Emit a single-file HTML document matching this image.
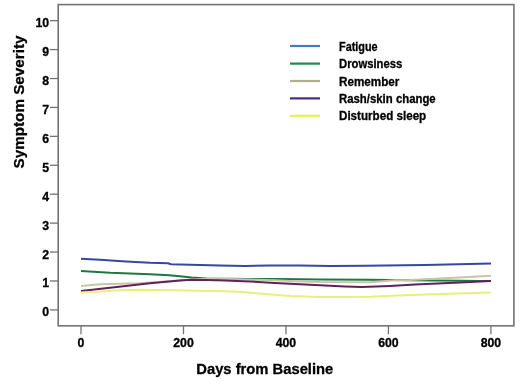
<!DOCTYPE html>
<html><head><meta charset="utf-8"><title>Symptom Severity</title>
<style>html,body{margin:0;padding:0;background:#fff;width:520px;height:390px;overflow:hidden}svg{display:block}</style>
</head><body>
<svg width="520" height="390" viewBox="0 0 520 390">
<rect x="0" y="0" width="520" height="390" fill="#fff"/>
<rect x="58.2" y="4.6" width="455.7" height="321.2" fill="none" stroke="#737373" stroke-width="1.6"/>
<line x1="50" y1="309.90" x2="58.2" y2="309.90" stroke="#737373" stroke-width="1.3"/>
<text x="49.2" y="316.40" text-anchor="end" font-family='"Liberation Sans", Arial, sans-serif' font-weight="bold" font-size="12.3" fill="#000" stroke="#000" stroke-width="0.3">0</text>
<line x1="50" y1="280.98" x2="58.2" y2="280.98" stroke="#737373" stroke-width="1.3"/>
<text x="49.2" y="287.48" text-anchor="end" font-family='"Liberation Sans", Arial, sans-serif' font-weight="bold" font-size="12.3" fill="#000" stroke="#000" stroke-width="0.3">1</text>
<line x1="50" y1="252.05" x2="58.2" y2="252.05" stroke="#737373" stroke-width="1.3"/>
<text x="49.2" y="258.55" text-anchor="end" font-family='"Liberation Sans", Arial, sans-serif' font-weight="bold" font-size="12.3" fill="#000" stroke="#000" stroke-width="0.3">2</text>
<line x1="50" y1="223.13" x2="58.2" y2="223.13" stroke="#737373" stroke-width="1.3"/>
<text x="49.2" y="229.63" text-anchor="end" font-family='"Liberation Sans", Arial, sans-serif' font-weight="bold" font-size="12.3" fill="#000" stroke="#000" stroke-width="0.3">3</text>
<line x1="50" y1="194.20" x2="58.2" y2="194.20" stroke="#737373" stroke-width="1.3"/>
<text x="49.2" y="200.70" text-anchor="end" font-family='"Liberation Sans", Arial, sans-serif' font-weight="bold" font-size="12.3" fill="#000" stroke="#000" stroke-width="0.3">4</text>
<line x1="50" y1="165.28" x2="58.2" y2="165.28" stroke="#737373" stroke-width="1.3"/>
<text x="49.2" y="171.78" text-anchor="end" font-family='"Liberation Sans", Arial, sans-serif' font-weight="bold" font-size="12.3" fill="#000" stroke="#000" stroke-width="0.3">5</text>
<line x1="50" y1="136.36" x2="58.2" y2="136.36" stroke="#737373" stroke-width="1.3"/>
<text x="49.2" y="142.86" text-anchor="end" font-family='"Liberation Sans", Arial, sans-serif' font-weight="bold" font-size="12.3" fill="#000" stroke="#000" stroke-width="0.3">6</text>
<line x1="50" y1="107.43" x2="58.2" y2="107.43" stroke="#737373" stroke-width="1.3"/>
<text x="49.2" y="113.93" text-anchor="end" font-family='"Liberation Sans", Arial, sans-serif' font-weight="bold" font-size="12.3" fill="#000" stroke="#000" stroke-width="0.3">7</text>
<line x1="50" y1="78.51" x2="58.2" y2="78.51" stroke="#737373" stroke-width="1.3"/>
<text x="49.2" y="85.01" text-anchor="end" font-family='"Liberation Sans", Arial, sans-serif' font-weight="bold" font-size="12.3" fill="#000" stroke="#000" stroke-width="0.3">8</text>
<line x1="50" y1="49.58" x2="58.2" y2="49.58" stroke="#737373" stroke-width="1.3"/>
<text x="49.2" y="56.08" text-anchor="end" font-family='"Liberation Sans", Arial, sans-serif' font-weight="bold" font-size="12.3" fill="#000" stroke="#000" stroke-width="0.3">9</text>
<line x1="50" y1="20.66" x2="58.2" y2="20.66" stroke="#737373" stroke-width="1.3"/>
<text x="49.2" y="27.16" text-anchor="end" font-family='"Liberation Sans", Arial, sans-serif' font-weight="bold" font-size="12.3" fill="#000" stroke="#000" stroke-width="0.3">10</text>
<line x1="81.00" y1="325.8" x2="81.00" y2="334.2" stroke="#737373" stroke-width="1.3"/>
<text x="81.00" y="347.1" text-anchor="middle" font-family='"Liberation Sans", Arial, sans-serif' font-weight="bold" font-size="12.3" fill="#000" stroke="#000" stroke-width="0.3">0</text>
<line x1="183.48" y1="325.8" x2="183.48" y2="334.2" stroke="#737373" stroke-width="1.3"/>
<text x="183.48" y="347.1" text-anchor="middle" font-family='"Liberation Sans", Arial, sans-serif' font-weight="bold" font-size="12.3" fill="#000" stroke="#000" stroke-width="0.3">200</text>
<line x1="285.96" y1="325.8" x2="285.96" y2="334.2" stroke="#737373" stroke-width="1.3"/>
<text x="285.96" y="347.1" text-anchor="middle" font-family='"Liberation Sans", Arial, sans-serif' font-weight="bold" font-size="12.3" fill="#000" stroke="#000" stroke-width="0.3">400</text>
<line x1="388.44" y1="325.8" x2="388.44" y2="334.2" stroke="#737373" stroke-width="1.3"/>
<text x="388.44" y="347.1" text-anchor="middle" font-family='"Liberation Sans", Arial, sans-serif' font-weight="bold" font-size="12.3" fill="#000" stroke="#000" stroke-width="0.3">600</text>
<line x1="490.92" y1="325.8" x2="490.92" y2="334.2" stroke="#737373" stroke-width="1.3"/>
<text x="490.92" y="347.1" text-anchor="middle" font-family='"Liberation Sans", Arial, sans-serif' font-weight="bold" font-size="12.3" fill="#000" stroke="#000" stroke-width="0.3">800</text>
<text transform="translate(24,168.5) rotate(-90)" x="0" y="0" font-family='"Liberation Sans", Arial, sans-serif' font-weight="bold" font-size="15" fill="#000" stroke="#000" stroke-width="0.3" textLength="133" lengthAdjust="spacingAndGlyphs">Symptom Severity</text>
<text x="196.3" y="374.2" font-family='"Liberation Sans", Arial, sans-serif' font-weight="bold" font-size="15" fill="#000" stroke="#000" stroke-width="0.3" textLength="137" lengthAdjust="spacingAndGlyphs">Days from Baseline</text>
<line x1="290" y1="46.0" x2="320" y2="46.0" stroke="#4a7ab5" stroke-width="2.2"/>
<text x="339" y="50.5" font-family='"Liberation Sans", Arial, sans-serif' font-weight="bold" font-size="12.2" fill="#000" stroke="#000" stroke-width="0.3" textLength="38.6" lengthAdjust="spacingAndGlyphs">Fatigue</text>
<line x1="290" y1="63.6" x2="320" y2="63.6" stroke="#1a8a4a" stroke-width="2.2"/>
<text x="339" y="68.1" font-family='"Liberation Sans", Arial, sans-serif' font-weight="bold" font-size="12.2" fill="#000" stroke="#000" stroke-width="0.3" textLength="63.3" lengthAdjust="spacingAndGlyphs">Drowsiness</text>
<line x1="290" y1="81.0" x2="320" y2="81.0" stroke="#b5ad90" stroke-width="2.2"/>
<text x="339" y="85.5" font-family='"Liberation Sans", Arial, sans-serif' font-weight="bold" font-size="12.2" fill="#000" stroke="#000" stroke-width="0.3" textLength="60.4" lengthAdjust="spacingAndGlyphs">Remember</text>
<line x1="290" y1="98.4" x2="320" y2="98.4" stroke="#4a2a80" stroke-width="2.2"/>
<text x="339" y="102.9" font-family='"Liberation Sans", Arial, sans-serif' font-weight="bold" font-size="12.2" fill="#000" stroke="#000" stroke-width="0.3" textLength="96.7" lengthAdjust="spacingAndGlyphs">Rash/skin change</text>
<line x1="290" y1="115.8" x2="320" y2="115.8" stroke="#e8f04a" stroke-width="2.2"/>
<text x="339" y="120.3" font-family='"Liberation Sans", Arial, sans-serif' font-weight="bold" font-size="12.2" fill="#000" stroke="#000" stroke-width="0.3" textLength="87.2" lengthAdjust="spacingAndGlyphs">Disturbed sleep</text>
<polyline points="81.0,258.7 100.0,259.7 126.0,261.4 150.0,262.8 168.0,263.3 171.0,264.3 190.0,264.8 220.0,265.4 245.0,265.9 270.0,265.6 300.0,265.6 330.0,266.0 365.0,265.8 425.0,264.9 491.0,263.4" fill="none" stroke="#3747a0" stroke-width="2" stroke-linejoin="round" stroke-linecap="butt"/>
<polyline points="81.0,270.9 110.0,272.8 150.0,274.3 169.0,275.2 180.0,276.3 191.5,277.5 207.0,278.4 248.0,279.0 275.0,279.1 300.0,279.3 320.0,279.4 370.0,279.8 410.0,280.2 460.0,280.8 480.0,280.9 491.0,281.0" fill="none" stroke="#1d7842" stroke-width="2" stroke-linejoin="round" stroke-linecap="butt"/>
<polyline points="81.0,285.9 100.0,284.3 140.0,283.3 207.0,278.6 230.0,278.9 275.0,280.3 300.0,281.4 320.0,282.0 370.0,282.2 395.0,280.2 410.0,279.9 460.0,277.5 491.0,275.8" fill="none" stroke="#c9c4a6" stroke-width="2" stroke-linejoin="round" stroke-linecap="butt"/>
<polyline points="81.0,291.0 110.0,287.8 150.0,283.2 180.0,280.5 191.0,279.7 207.0,279.9 225.0,280.5 250.0,281.5 275.0,282.9 300.0,284.2 320.0,285.2 345.0,286.5 362.0,287.1 390.0,285.9 415.0,284.4 460.0,282.4 491.0,281.1" fill="none" stroke="#60215f" stroke-width="2" stroke-linejoin="round" stroke-linecap="butt"/>
<polyline points="81.0,292.4 100.0,291.4 120.0,290.3 140.0,289.8 160.0,289.9 200.0,290.7 225.0,291.3 240.0,291.7 265.0,294.0 290.0,295.9 320.0,297.0 345.0,297.1 370.0,296.7 410.0,295.0 450.0,293.8 491.0,292.6" fill="none" stroke="#e8f07c" stroke-width="2" stroke-linejoin="round" stroke-linecap="butt"/>
</svg>
</body></html>
